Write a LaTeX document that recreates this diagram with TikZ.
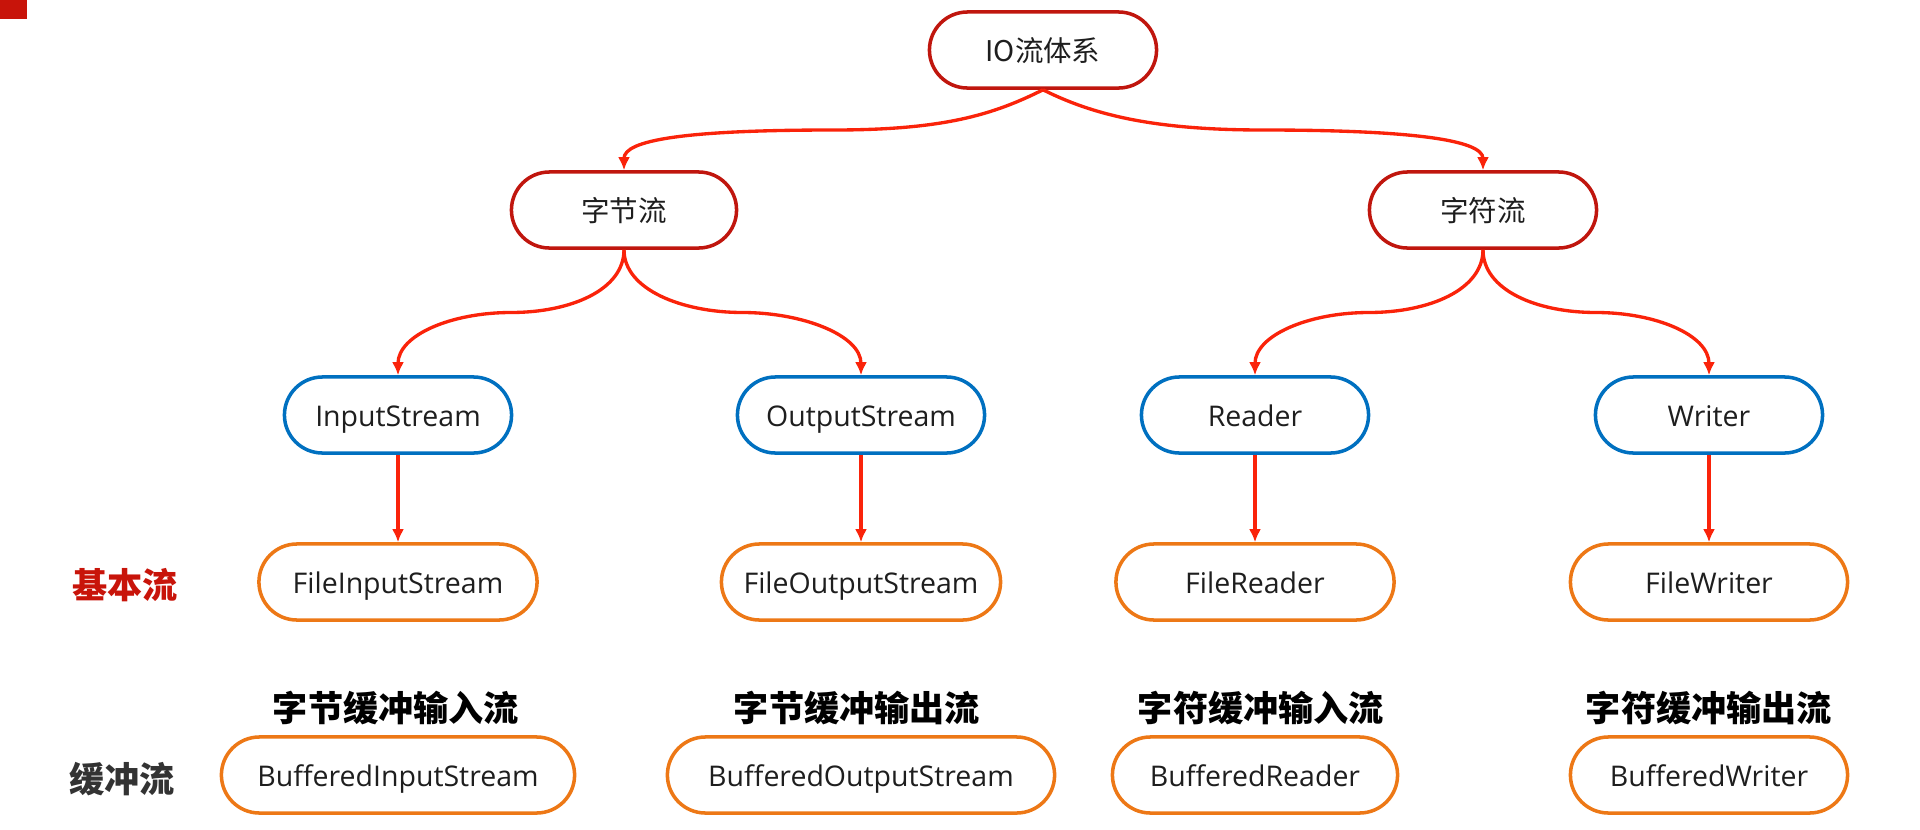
\documentclass[tikz,border=0pt]{standalone}
\usepackage{fontspec}
\setmainfont{Open Sans}
\newfontfamily\cjk{Noto Sans CJK SC}
\definecolor{topred}{RGB}{192, 22, 14}
\definecolor{baseblue}{RGB}{0, 112, 192}
\definecolor{fileorange}{RGB}{237, 120, 22}
\definecolor{linkred}{RGB}{250, 35, 10}
\definecolor{tagred}{RGB}{200, 20, 10}
\definecolor{textdark}{RGB}{30, 30, 30}
\usetikzlibrary{arrows.meta, calc}

\begin{document}
\begin{tikzpicture}[x=0.01cm, y=-0.01cm,
        every node/.style={font=\fontsize{8.1}{9.5}\selectfont, align=center, text=textdark},
        pill/.style={rectangle, rounded corners=3.8mm, line width=1pt, fill=white, minimum height=7.6mm, inner sep=0pt, text height=2.8mm, text depth=0.6mm},
        root/.style={pill, draw=topred},
        base/.style={pill, draw=baseblue},
        impl/.style={pill, draw=fileorange},
        tag/.style={font=\cjk\bfseries\fontsize{10}{12}\selectfont},
        link/.style={-{Latex[length=1.3mm, width=1.2mm]}, linkred, line width=0.95pt}
    ]
        \useasboundingbox (0,0) rectangle (1920,830);
        \fill[tagred] (0,0) rectangle (27,19);

        % top levels
        \node[root, minimum width=22.7mm] (io) at (1043, 50)    {\cjk IO流体系};
        \node[root, minimum width=22.5mm] (bytes) at (624, 210) {\cjk 字节流};
        \node[root, minimum width=22.7mm] (chars) at (1483, 210) {\cjk 字符流};

        % abstract classes
        \node[base, minimum width=22.7mm] (is)  at (398, 415)  {InputStream};
        \node[base, minimum width=24.7mm] (os)  at (861, 415)  {OutputStream};
        \node[base, minimum width=22.7mm] (rd)  at (1255, 415) {Reader};
        \node[base, minimum width=22.7mm] (wr)  at (1709, 415) {Writer};

        % basic streams
        \node[impl, minimum width=27.8mm] (fis) at (398, 582)  {FileInputStream};
        \node[impl, minimum width=27.9mm] (fos) at (861, 582)  {FileOutputStream};
        \node[impl, minimum width=27.8mm] (frd) at (1255, 582) {FileReader};
        \node[impl, minimum width=27.7mm] (fwr) at (1709, 582) {FileWriter};

        % buffered streams
        \node[impl, minimum width=35.3mm] (bis) at (398, 775)  {BufferedInputStream};
        \node[impl, minimum width=38.7mm] (bos) at (861, 775)  {BufferedOutputStream};
        \node[impl, minimum width=28.5mm] (brd) at (1255, 775) {BufferedReader};
        \node[impl, minimum width=27.7mm] (bwr) at (1709, 775) {BufferedWriter};

        \node[tag, text=tagred] (basic) at (125, 585) {基本流};
        \node[tag, text=black!80] (buffered) at (122, 779) {缓冲流};
        \node[tag, text=black] (bisTag) at (396, 708)  {字节缓冲输入流};
        \node[tag, text=black] (bosTag) at (857, 708)  {字节缓冲输出流};
        \node[tag, text=black] (brdTag) at (1261, 708) {字符缓冲输入流};
        \node[tag, text=black] (bwrTag) at (1709, 708) {字符缓冲输出流};

        % curved links
        \draw[link] (io.south) .. controls +(-50,25) and +(110,0) .. ($(io.south)!0.5!(bytes.north)$)
            .. controls +(-150,0) and +(0,-30) .. (bytes.north);
        \draw[link] (io.south) .. controls +(50,25) and +(-110,0) .. ($(io.south)!0.5!(chars.north)$)
            .. controls +(150,0) and +(0,-30) .. (chars.north);
        \draw[link] (bytes.south) .. controls +(0,40) and +(60,0) .. ($(bytes.south)!0.5!(is.north)$)
            .. controls +(-60,0) and +(0,-40) .. (is.north);
        \draw[link] (bytes.south) .. controls +(0,40) and +(-60,0) .. ($(bytes.south)!0.5!(os.north)$)
            .. controls +(60,0) and +(0,-40) .. (os.north);
        \draw[link] (chars.south) .. controls +(0,40) and +(60,0) .. ($(chars.south)!0.5!(rd.north)$)
            .. controls +(-60,0) and +(0,-40) .. (rd.north);
        \draw[link] (chars.south) .. controls +(0,40) and +(-60,0) .. ($(chars.south)!0.5!(wr.north)$)
            .. controls +(60,0) and +(0,-40) .. (wr.north);

        % straight links
        \draw[link] (is) -- (fis);
        \draw[link] (os) -- (fos);
        \draw[link] (rd) -- (frd);
        \draw[link] (wr) -- (fwr);
    \end{tikzpicture}
\end{document}
